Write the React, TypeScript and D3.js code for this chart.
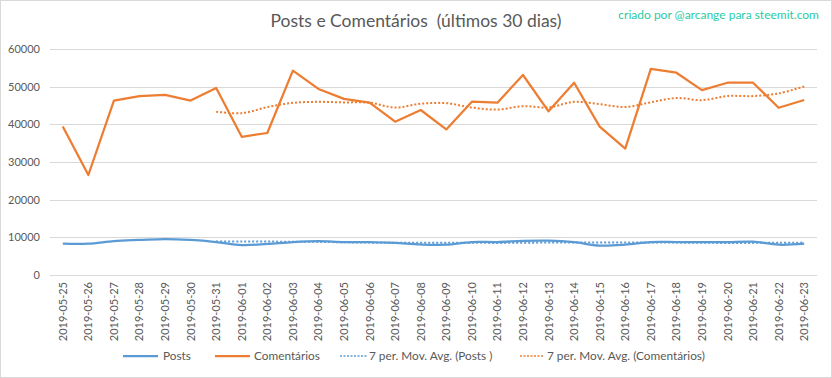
import React from "react";
import * as d3 from "d3";

const dates = [
  "2019-05-25","2019-05-26","2019-05-27","2019-05-28","2019-05-29","2019-05-30","2019-05-31",
  "2019-06-01","2019-06-02","2019-06-03","2019-06-04","2019-06-05","2019-06-06","2019-06-07",
  "2019-06-08","2019-06-09","2019-06-10","2019-06-11","2019-06-12","2019-06-13","2019-06-14",
  "2019-06-15","2019-06-16","2019-06-17","2019-06-18","2019-06-19","2019-06-20","2019-06-21",
  "2019-06-22","2019-06-23",
];
const posts = [
  8300, 8300, 9000, 9300, 9550, 9300, 8750, 7950, 8250, 8750,
  9000, 8750, 8750, 8500, 8100, 8050, 8750, 8750, 9050, 9100,
  8700, 7800, 8050, 8750, 8750, 8750, 8750, 8850, 8050, 8300,
];
const comentarios = [
  39400, 26550, 46300, 47500, 47800, 46300, 49650, 36700, 37700, 54250,
  49400, 46750, 45750, 40700, 43800, 38650, 46000, 45750, 53100, 43450,
  51050, 39400, 33550, 54700, 53700, 49100, 51050, 51050, 44400, 46450,
];
const yTicks = [0, 10000, 20000, 30000, 40000, 50000, 60000];
const title = "Posts e Comentários  (últimos 30 dias)";
const watermark = "criado por @arcange para steemit.com";
const legendLabels = ["Posts", "Comentários", "7 per. Mov. Avg. (Posts )", "7 per. Mov. Avg. (Comentários)"];

const BLUE = "#5B9BD5";
const ORANGE = "#ED7D31";
const FONT = "Lato, 'Open Sans', sans-serif";

function movingAvg(vals: number[], n: number): (number | null)[] {
  return vals.map((_, i) => (i < n - 1 ? null : (d3.mean(vals.slice(i - n + 1, i + 1)) as number)));
}

export default function App() {
  const W = 832, H = 378;
  const x = d3.scaleBand<string>().domain(dates).range([50, 817]);
  const cx = (d: string) => (x(d) as number) + x.bandwidth() / 2;
  const y = d3.scaleLinear().domain([0, 60000]).range([275, 49]);

  const lineStraight = d3.line<[string, number]>().x((d) => cx(d[0])).y((d) => y(d[1]));
  const lineSmooth = d3
    .line<[string, number]>()
    .x((d) => cx(d[0]))
    .y((d) => y(d[1]))
    .curve(d3.curveCatmullRom.alpha(0.5));

  const pairs = (vals: (number | null)[]) =>
    vals.map((v, i) => [dates[i], v] as [string, number | null]).filter((p) => p[1] !== null) as [string, number][];

  const maPosts = movingAvg(posts, 7);
  const maCom = movingAvg(comentarios, 7);

  const legendItems = [
    { label: legendLabels[0], color: BLUE, dash: undefined as string | undefined, x0: 123, len: 35, tx: 163 },
    { label: legendLabels[1], color: ORANGE, dash: undefined, x0: 215, len: 35, tx: 254 },
    { label: legendLabels[2], color: BLUE, dash: "2 1.5", x0: 340, len: 28, tx: 369 },
    { label: legendLabels[3], color: ORANGE, dash: "2 1.5", x0: 520, len: 24, tx: 547 },
  ];

  return (
    <svg
      width={W}
      height={H}
      style={{ position: "absolute", left: 0, top: 0, background: "#fff" }}
      fontFamily={FONT}
    >
      <rect x={0.5} y={0.5} width={W - 1} height={H - 1} fill="#fff" stroke="#D9D9D9" />
      <text x={416} y={27} textAnchor="middle" fontSize={17.5} fill="#595959" style={{ whiteSpace: "pre" }}>
        {title}
      </text>
      <text x={819} y={19} textAnchor="end" fontSize={12} fill="#2ACBA6">
        {watermark}
      </text>
      {yTicks.map((t) => (
        <g key={t}>
          <line x1={50} x2={817} y1={Math.round(y(t)) + 0.5} y2={Math.round(y(t)) + 0.5} stroke="#D9D9D9" strokeWidth={1} />
          <text x={40} y={y(t) + 4} textAnchor="end" fontSize={11} fill="#595959">
            {t}
          </text>
        </g>
      ))}
      {dates.map((d) => (
        <text
          key={d}
          transform={`translate(${cx(d) + 4},${282}) rotate(-90)`}
          textAnchor="end"
          fontSize={11}
          fill="#595959"
        >
          {d}
        </text>
      ))}
      <path d={lineSmooth(pairs(posts)) as string} fill="none" stroke={BLUE} strokeWidth={2.25} strokeLinejoin="round" />
      <path d={lineStraight(pairs(comentarios)) as string} fill="none" stroke={ORANGE} strokeWidth={2.25} strokeLinejoin="round" />
      <path d={lineSmooth(pairs(maPosts)) as string} fill="none" stroke={BLUE} strokeWidth={2} strokeDasharray="2 2" />
      <path d={lineSmooth(pairs(maCom)) as string} fill="none" stroke={ORANGE} strokeWidth={2} strokeDasharray="2 2" />
      {legendItems.map((it) => (
        <g key={it.label}>
          <line x1={it.x0} x2={it.x0 + it.len} y1={356} y2={356} stroke={it.color} strokeWidth={it.dash ? 1.5 : 2.25} strokeDasharray={it.dash} />
          <text x={it.tx} y={360} fontSize={11.8} fill="#595959" style={{ whiteSpace: "pre" }}>
            {it.label}
          </text>
        </g>
      ))}
    </svg>
  );
}
